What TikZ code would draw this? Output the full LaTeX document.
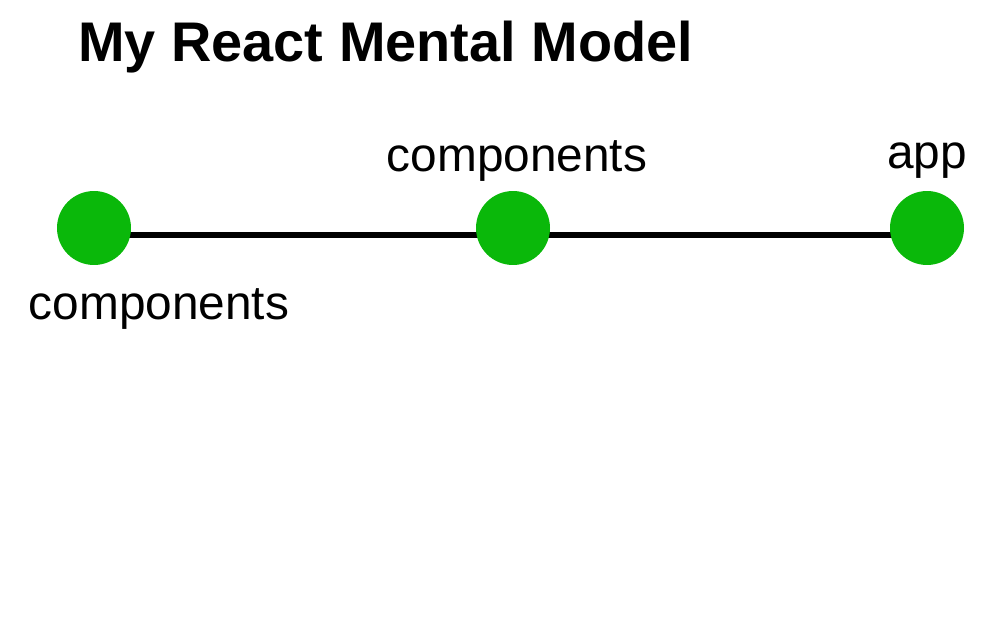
\documentclass[tikz,border=0pt]{standalone}
\usepackage{fontspec}
\setmainfont{Liberation Sans}
\usetikzlibrary{backgrounds}
\definecolor{dotgreen}{RGB}{10,184,10}

\begin{document}
\begin{tikzpicture}[x=0.02cm,y=-0.02cm,
  dot/.style={circle,fill=dotgreen,inner sep=0pt,minimum size=1.48cm},
  label text/.style={font=\fontsize{27.2pt}{30pt}\selectfont,anchor=base,inner sep=0pt},
  link/.style={line width=0.14cm,black}]
\useasboundingbox (0,0) rectangle (1000,625);

% Title
\node[font=\fontsize{31.8pt}{36pt}\selectfont\bfseries,anchor=base west,inner sep=0pt] (title) at (78,62) {My React Mental Model};

% Points
\node[dot] (comp1) at (94,228) {};
\node[dot] (comp2) at (513,228) {};
\node[dot] (app) at (927,228) {};

% Line
\begin{pgfonlayer}{background}
\draw[link] ([yshift=-0.14cm]comp1.center) -- ([yshift=-0.14cm]comp2.center) -- ([yshift=-0.14cm]app.center);
\end{pgfonlayer}

% Labels
\node[label text] (comp1 label) at (159,319) {components};
\node[label text] (comp2 label) at (517,171) {components};
\node[label text] (app label) at (927,168) {app};
\end{tikzpicture}
\end{document}
